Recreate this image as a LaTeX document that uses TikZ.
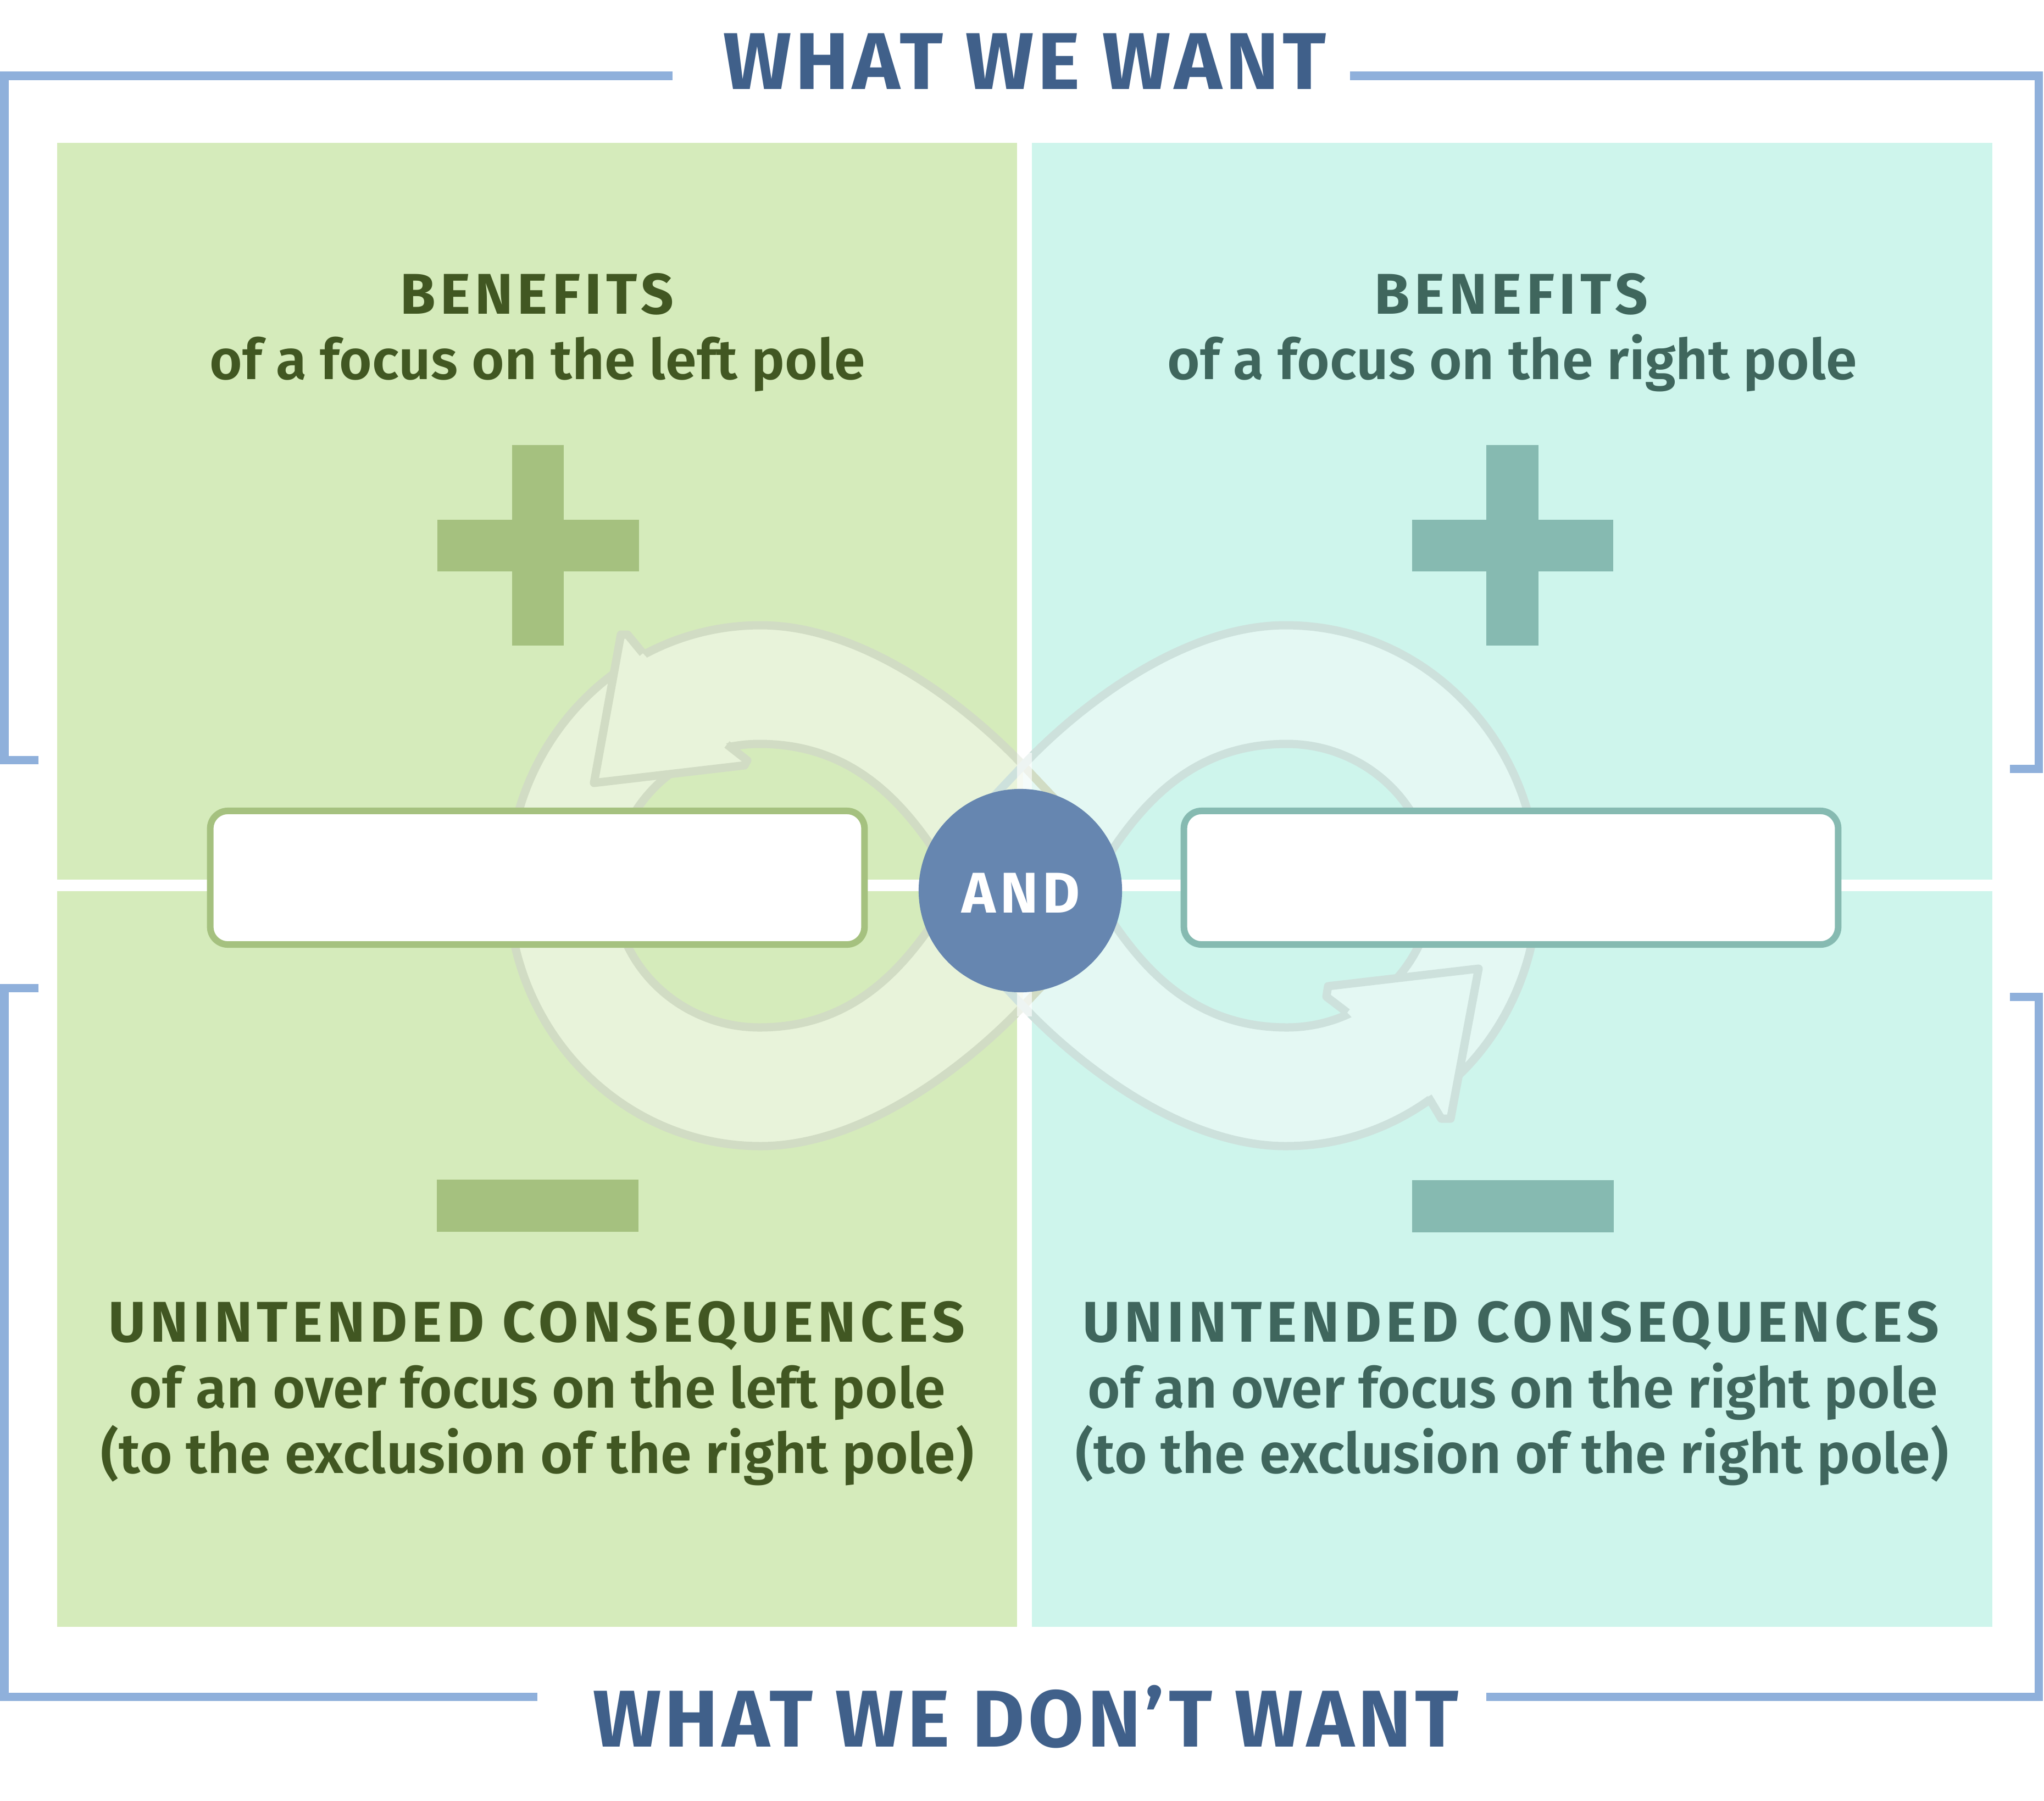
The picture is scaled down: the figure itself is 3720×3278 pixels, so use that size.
\documentclass[tikz,border=0pt]{standalone}
\usepackage{fontspec}
\setmainfont{Fira Sans}[UprightFont={* SemiBold},BoldFont={* Bold}]
\newfontfamily\headfont{Fira Sans}[UprightFont={* Bold},LetterSpace=8]
\newfontfamily\titlefont{Fira Sans}[UprightFont={* Bold},LetterSpace=4.5]
\definecolor{bracketc}{HTML}{8FB0DB}
\definecolor{titlec}{HTML}{40608A}
\definecolor{panelL}{HTML}{D5EBBB}
\definecolor{panelR}{HTML}{CEF5EC}
\definecolor{markL}{HTML}{A5C17F}
\definecolor{markR}{HTML}{86BAB1}
\definecolor{txtL}{HTML}{415722}
\definecolor{txtR}{HTML}{3F665D}
\definecolor{bandL}{HTML}{E8F3DA}
\definecolor{bandR}{HTML}{E4F8F3}
\definecolor{edgeL}{HTML}{D1DCC4}
\definecolor{edgeR}{HTML}{CDE1DC}
\definecolor{andc}{HTML}{6686B0}
\tikzset{
  bracket/.style={draw=bracketc, line width=4.27pt, line cap=butt, line join=miter},
  bandedge/.style={line width=4.27pt, line join=round},
  headtxt/.style={anchor=base, inner sep=0pt, font=\fontsize{29.7pt}{36pt}\headfont},
  subtxt/.style={anchor=base, inner sep=0pt, font=\fontsize{29.1pt}{36pt}\selectfont},
  titletxt/.style={anchor=base, inner sep=0pt, text=titlec, font=\fontsize{41.7pt}{48pt}\titlefont},
  polebox/.style={fill=white, line width=3.41pt, rounded corners=0.32cm, minimum width=11.9cm, minimum height=2.43cm, inner sep=0pt}
}
\begin{document}
\begin{tikzpicture}[x=0.01cm,y=-0.01cm]
\useasboundingbox (0,0) rectangle (3720,3278);
\fill[white] (0,0) rectangle (3720,3278);
% panels
\fill[panelL] (104,260) rectangle (1851,1601);
\fill[panelL] (104,1622) rectangle (1851,2961);
\fill[panelR] (1878,260) rectangle (3626,1601);
\fill[panelR] (1878,1622) rectangle (3626,2961);
% plus and minus marks
\fill[markL] (932,810) rectangle (1026,1175);
\fill[markL] (796,946) rectangle (1163,1040);
\fill[markR] (2705,810) rectangle (2800,1175);
\fill[markR] (2570,946) rectangle (2936,1040);
\fill[markL] (795,2147) rectangle (1162,2242);
\fill[markR] (2570,2148) rectangle (2937,2243);
% band fills
\fill[bandL, even odd rule]
  (1862,1393) .. controls (1780,1305) and (1584,1138) .. (1384,1138)
  .. controls (1130,1138) and (925,1350) .. (925,1612)
  .. controls (925,1874) and (1130,2086) .. (1384,2086)
  .. controls (1584,2086) and (1780,1919) .. (1862,1831) -- cycle
  (1740,1612) .. controls (1660,1473) and (1562,1354) .. (1382,1354)
  .. controls (1236,1354) and (1117,1470) .. (1117,1612)
  .. controls (1117,1754) and (1236,1870) .. (1382,1870)
  .. controls (1562,1870) and (1660,1751) .. (1740,1612) -- cycle;
\fill[bandR, even odd rule]
  (1862,1393) .. controls (1944,1305) and (2140,1138) .. (2340,1138)
  .. controls (2594,1138) and (2799,1350) .. (2799,1612)
  .. controls (2799,1874) and (2594,2086) .. (2340,2086)
  .. controls (2140,2086) and (1944,1919) .. (1862,1831) -- cycle
  (1984,1612) .. controls (2064,1473) and (2162,1354) .. (2342,1354)
  .. controls (2488,1354) and (2607,1470) .. (2607,1612)
  .. controls (2607,1754) and (2488,1870) .. (2342,1870)
  .. controls (2162,1870) and (2064,1751) .. (1984,1612) -- cycle;
% band edges
\draw[bandedge, draw=edgeL]
  (1928,1463) -- (1862,1393) .. controls (1780,1305) and (1584,1138) .. (1384,1138)
  .. controls (1130,1138) and (925,1350) .. (925,1612)
  .. controls (925,1874) and (1130,2086) .. (1384,2086)
  .. controls (1584,2086) and (1780,1919) .. (1862,1831) -- (1928,1761);
\draw[bandedge, draw=edgeL]
  (1740,1612) .. controls (1660,1473) and (1562,1354) .. (1382,1354)
  .. controls (1236,1354) and (1117,1470) .. (1117,1612)
  .. controls (1117,1754) and (1236,1870) .. (1382,1870)
  .. controls (1562,1870) and (1660,1751) .. (1740,1612);
\draw[bandedge, draw=edgeR]
  (1796,1463) -- (1862,1393) .. controls (1944,1305) and (2140,1138) .. (2340,1138)
  .. controls (2594,1138) and (2799,1350) .. (2799,1612)
  .. controls (2799,1874) and (2594,2086) .. (2340,2086)
  .. controls (2140,2086) and (1944,1919) .. (1862,1831) -- (1796,1761);
\draw[bandedge, draw=edgeR]
  (1984,1612) .. controls (2064,1473) and (2162,1354) .. (2342,1354)
  .. controls (2488,1354) and (2607,1470) .. (2607,1612)
  .. controls (2607,1754) and (2488,1870) .. (2342,1870)
  .. controls (2162,1870) and (2064,1751) .. (1984,1612);
% divider seen through the crossing
\fill[white, opacity=0.65] (1851,1370) rectangle (1878,1850);
% arrow heads
\fill[bandL] (1170,1189) -- (1142,1155) -- (1130,1155) -- (1081,1425) -- (1355,1393) -- (1360,1384) -- (1323,1355) -- cycle;
\draw[bandedge, draw=edgeL] (1170,1189) -- (1142,1155) -- (1130,1155) -- (1081,1425) -- (1355,1393) -- (1360,1384) -- (1323,1355);
\fill[bandR] (2452,1843) -- (2414,1814) -- (2417,1795) -- (2691,1763) -- (2640,2036) -- (2623,2036) -- (2599,1996) -- cycle;
\draw[bandedge, draw=edgeR] (2452,1843) -- (2414,1814) -- (2417,1795) -- (2691,1763) -- (2640,2036) -- (2623,2036) -- (2599,1996);
% pole boxes
\node[polebox, draw=markL] (lbox) at (978,1597.5) {};
\node[polebox, draw=markR] (rbox) at (2750,1597.5) {};
% AND
\node[circle, fill=andc, minimum size=3.7cm, inner sep=0pt] (andc) at (1857,1621) {};
\node[headtxt, text=white] (andt) at (1858,1661) {AND};
% texts
\node[headtxt, text=txtL] (lben) at (977,571) {BENEFITS};
\node[subtxt, text=txtL] (lbens) at (978,690) {of a focus on the left pole};
\node[headtxt, text=txtR] (rben) at (2750,571) {BENEFITS};
\node[subtxt, text=txtR] (rbens) at (2752,690) {of a focus on the right pole};
\node[headtxt, text=txtL] (luc) at (977,2442) {UNINTENDED CONSEQUENCES};
\node[subtxt, text=txtL] (luc2) at (978,2562) {of an over focus on the left pole};
\node[subtxt, text=txtL] (luc3) at (978,2681) {(to the exclusion of the right pole)};
\node[headtxt, text=txtR] (ruc) at (2750,2442) {UNINTENDED CONSEQUENCES};
\node[subtxt, text=txtR] (ruc2) at (2753,2562) {of an over focus on the right pole};
\node[subtxt, text=txtR] (ruc3) at (2752,2681) {(to the exclusion of the right pole)};
% brackets
\draw[bracket] (70,1383) -- (8,1383) -- (8,138) -- (1224,138);
\draw[bracket] (2457,138) -- (3710,138) -- (3710,1399) -- (3658,1399);
\draw[bracket] (70,1798) -- (8,1798) -- (8,3088) -- (978,3088);
\draw[bracket] (2705,3088) -- (3710,3088) -- (3710,1814) -- (3658,1814);
% titles
\node[titletxt] (ttop) at (1865,162) {WHAT WE WANT};
\node[titletxt] (tbot) at (1867,3179) {WHAT WE DON’T WANT};
\end{tikzpicture}
\end{document}
